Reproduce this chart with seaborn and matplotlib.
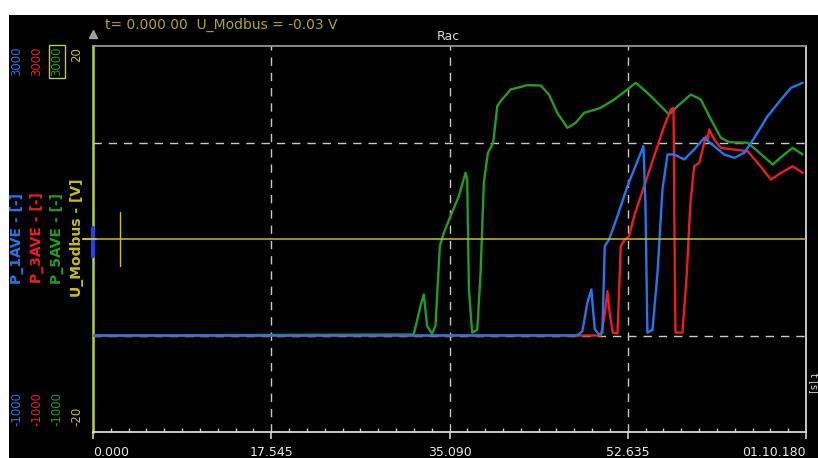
import numpy as np
import pandas as pd
import matplotlib
matplotlib.use("Agg")
import matplotlib.pyplot as plt
import seaborn as sns
from matplotlib.patches import Rectangle

# values (time in s, channel values)
green_t = [0.0, 31.57, 32.23, 32.56, 32.89, 33.38, 33.71, 34.14, 34.53, 35.19, 36.01, 36.67,
           36.83, 37.00, 37.32, 37.82, 38.15, 38.47, 38.87, 39.39, 39.79, 40.12, 41.10, 42.75,
           44.06, 44.88, 45.70, 46.69, 47.51, 48.33, 49.97, 51.29, 52.60, 53.42, 54.57, 55.89,
           56.71, 57.53, 58.85, 59.83, 60.82, 61.80, 62.62, 64.43, 65.42, 66.90, 68.04, 68.86, 69.85]
green_v = [0, 10, 304, 425, 97, 20, 100, 925, 1064, 1237, 1444, 1686,
           1616, 477, 30, 60, 650, 1582, 1893, 1997, 2376, 2428, 2549, 2594,
           2591, 2497, 2307, 2152, 2204, 2307, 2359, 2445, 2549, 2619, 2515, 2376,
           2290, 2376, 2497, 2445, 2238, 2048, 2003, 1997, 1910, 1772, 1876, 1945, 1876]

red_t = [0.0, 49.98, 50.37, 50.63, 50.90, 51.16, 51.62, 51.95, 52.34, 52.77, 53.26, 54.25,
         55.23, 56.22, 56.87, 57.14, 57.24, 57.33, 58.02, 58.45, 58.78, 59.17, 59.67, 60.00,
         60.33, 60.49, 60.65, 61.15, 61.80, 63.12, 64.43, 65.42, 66.73, 67.72, 68.87, 69.85]
red_v = [0, 0, 217, 459, 200, 30, 20, 925, 995, 1029, 1237, 1547,
         1858, 2169, 2342, 2359, 1000, 30, 30, 649, 1340, 1754, 1789, 1927,
         2065, 2031, 2134, 2031, 1944, 1927, 1910, 1789, 1616, 1685, 1754, 1685]

blue_t = [0.0, 47.67, 48.17, 48.66, 49.05, 49.38, 49.81, 50.14, 50.37, 50.80, 51.62, 52.60,
          53.26, 54.18, 54.38, 54.57, 55.07, 55.56, 56.05, 56.55, 57.20, 58.19, 59.17, 60.16,
          61.15, 62.13, 63.12, 64.10, 65.09, 66.40, 67.72, 68.70, 69.85]
blue_v = [0, 0, 45, 338, 477, 67, 10, 30, 925, 995, 1237, 1547,
          1720, 1962, 1340, 30, 60, 649, 1513, 1876, 1876, 1824, 1927, 2048,
          1962, 1875, 1841, 1893, 2048, 2273, 2445, 2566, 2619]

u_t = [0.0, 70.18]
u_v = [-0.03, -0.03]

x_ticks = [0.0, 17.545, 35.090, 52.635, 70.180]
x_labels = ["0.000", "17.545", "35.090", "52.635", "01.10.180"]

W, H = 818, 458
BLUE, RED, GREEN, YEL = "#1f78f0", "#f01c1c", "#1f9e1f", "#c8c010"

sns.set_theme(style="dark")
plt.rcParams["font.family"] = ["DejaVu Sans"]

fig = plt.figure(figsize=(W / 100, H / 100), dpi=100, facecolor="black")
# white margin at top and left of the screenshot
fig.patches.append(Rectangle((0, 0), 9 / W, 1, transform=fig.transFigure,
                             facecolor="white", edgecolor="none", zorder=-10))
fig.patches.append(Rectangle((0, 1 - 15 / H), 1, 15 / H, transform=fig.transFigure,
                             facecolor="white", edgecolor="none", zorder=-10))

ax = fig.add_axes([93 / W, 1 - 432 / H, (806 - 93) / W, (432 - 46) / H])
ax.set_zorder(2)
ax.set_facecolor("black")
ax.set_xlim(0, 70.18)
ax.set_ylim(-1000, 3000)

# grid
for t in x_ticks[1:-1]:
    ax.axvline(t, color="#c8c8c8", lw=1, ls=(0, (6, 5)), zorder=1)
for v in [2000, 0]:
    ax.axhline(v, color="#c8c8c8", lw=1, ls=(0, (6, 5)), zorder=1)

sns.lineplot(x=green_t, y=green_v, ax=ax, color=GREEN, lw=1.7, estimator=None, sort=False, zorder=3)
sns.lineplot(x=red_t, y=red_v, ax=ax, color=RED, lw=1.7, estimator=None, sort=False, zorder=4)
sns.lineplot(x=blue_t, y=blue_v, ax=ax, color=BLUE, lw=1.7, estimator=None, sort=False, zorder=5)

# spines
ax.spines["left"].set_color("#b4d23c")
ax.spines["left"].set_linewidth(1.8)
ax.spines["top"].set_color("#9a9a9a")
ax.spines["right"].set_color("#e0e0e0")
ax.spines["bottom"].set_color("#e0e0e0")
for s in ax.spines.values():
    s.set_visible(True)

ax.set_yticks([])
ax.set_xticks(x_ticks)
ax.set_xticklabels(x_labels)
ax.set_xticks(np.arange(0, 70.2, 1.7545), minor=True)
ax.tick_params(axis="x", which="major", direction="out", length=5, color="#c8c8c8",
               labelcolor="#e6e6e6", labelsize=9, pad=5, bottom=True)
ax.tick_params(axis="x", which="minor", direction="in", length=3, color="#c8c8c8", bottom=True)
lbls = ax.get_xticklabels()
lbls[0].set_ha("left")
lbls[-1].set_ha("right")
ax.set_xlabel("")
ax.set_ylabel("")

# U_Modbus on its own +-20 V scale
ax2 = ax.twinx()
ax2.set_zorder(3)
ax2.set_ylim(-20, 20)
sns.lineplot(x=u_t, y=u_v, ax=ax2, color=YEL, lw=1.1, estimator=None, sort=False)
ax2.set_yticks([])
ax2.set_ylabel("")
for s in ax2.spines.values():
    s.set_visible(False)
ax2.patch.set_visible(False)

# cursor markers
ax2.plot([2.66, 2.66], [0.43, 0.57], color=YEL, lw=1, transform=ax2.get_xaxis_transform())
ax2.plot([0, 0], [0.455, 0.528], color="#2040ff", lw=3, transform=ax2.transAxes, clip_on=False)
ax2.plot([-0.014, 0.004], [0.5, 0.5], color=YEL, lw=1.5, transform=ax2.transAxes, clip_on=False)
ax2.plot([0], [1.03], marker="^", ms=6, color="#a0a0a0", transform=ax2.transAxes, clip_on=False)

# left scale labels
cols = [BLUE, RED, GREEN, YEL]
xs = [17, 37, 57, 77]
tops = ["3000", "3000", "3000", "20"]
bots = ["-1000", "-1000", "-1000", "-20"]
names = ["P_1AVE - [-]", "P_3AVE - [-]", "P_5AVE - [-]", "U_Modbus - [V]"]
for c, x, tp, bt, nm in zip(cols, xs, tops, bots, names):
    fx = x / W
    bbox = None
    if c == GREEN:
        bbox = dict(boxstyle="square,pad=0.15", fc="none", ec="#b4d23c", lw=1)
    fig.text(fx, 1 - 47 / H, tp, color=c, rotation=90, ha="center", va="top", fontsize=8.5,
             bbox=bbox)
    fig.text(fx, 1 - 426 / H, bt, color=c, rotation=90, ha="center", va="bottom", fontsize=8.5)
    fig.text(fx, 1 - 238 / H, nm, color=c, rotation=90, ha="center", va="center",
             fontsize=10, fontweight="bold")

fig.text(105 / W, 1 - 25 / H, "t= 0.000 00  U_Modbus = -0.03 V", color="#b0a51c",
         fontsize=10, ha="left", va="center")
fig.text(448 / W, 1 - 37 / H, "Rac", color="#d8d8d8", fontsize=9, ha="center", va="center")
fig.text(809 / W, 1 - 383 / H, "t [s]", color="#d8d8d8", fontsize=7, rotation=270,
         ha="left", va="center")

fig.savefig("out.png", dpi=100, facecolor=fig.get_facecolor())
